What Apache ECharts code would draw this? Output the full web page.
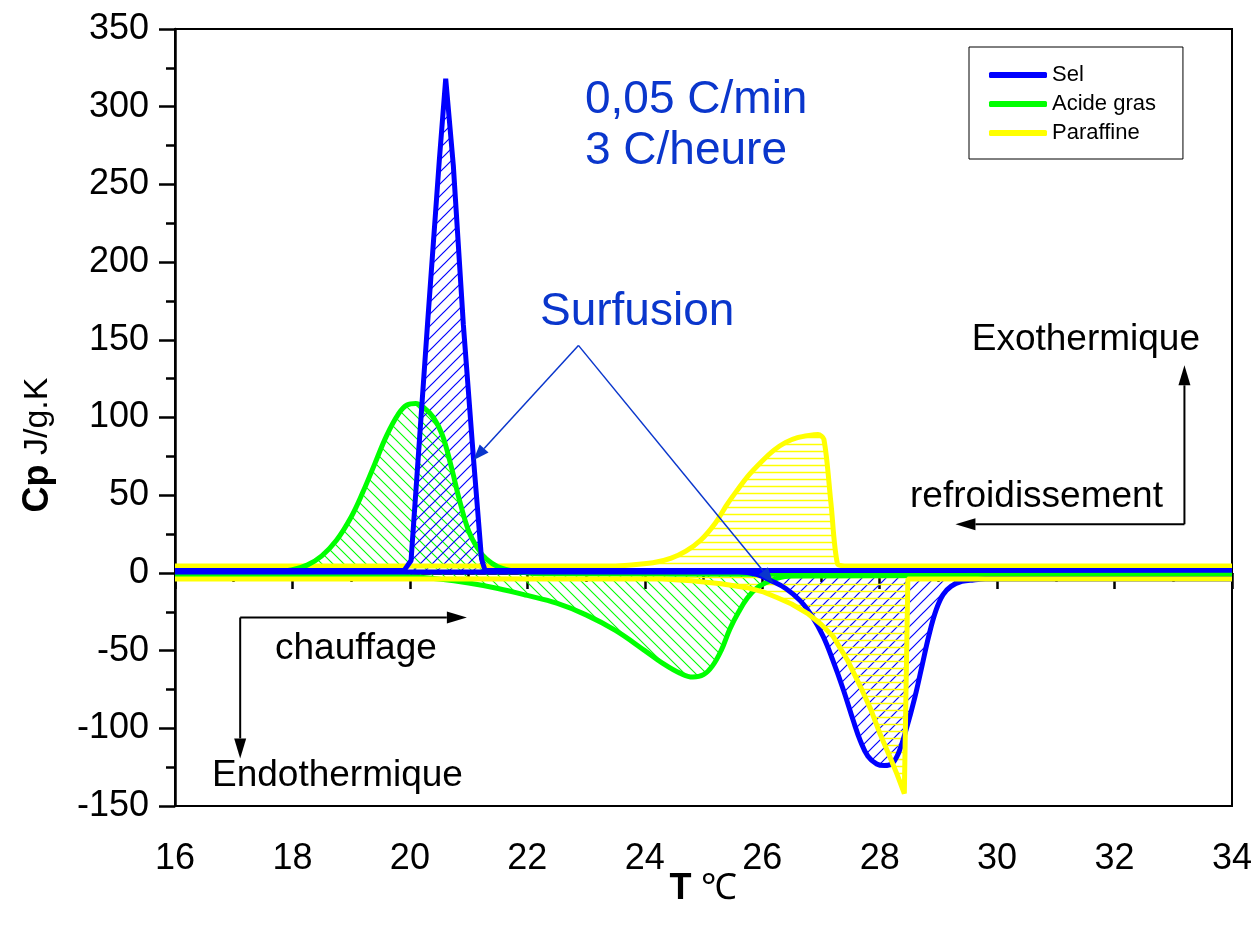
<!DOCTYPE html>
<html>
<head>
  <meta charset="utf-8">
  <script src="https://cdn.jsdelivr.net/npm/echarts@6.0.0/dist/echarts.min.js"></script>
  <style>
    body {
      margin: 0;
      padding: 0;
      background-color: white;
    }
    #main {
      width: 1257px;
      height: 931px;
    }
  </style>
  <title>Cp - Sel / Acide gras / Paraffine</title>
</head>
<body>
<div id="main"></div>
<script>
  // Sel (blue) - refroidissement (exothermic peak) and chauffage (endothermic)
  var selRefT  = [16, 19.9, 20.02, 20.3, 20.5, 20.61, 20.74, 20.91, 21.08, 21.22, 21.28, 34];
  var selRefCp = [1.5, 1.5, 8, 160, 265, 318, 262, 160, 75, 9, 1.5, 1.5];
  var selChT  = [16, 25.6, 25.9, 26.15, 26.4, 26.65, 26.85, 27.04, 27.2, 27.38, 27.55, 27.67, 27.8, 27.95, 28.08, 28.2, 28.32, 28.45, 28.6, 28.72, 28.84, 28.96, 29.08, 29.22, 29.4, 29.6, 29.8, 34];
  var selChCp = [0.5, 0.5, -1, -5, -10, -18, -28, -41, -56, -75, -95, -108, -118, -123, -124, -123, -116, -101, -80, -60, -40, -24, -14, -8.5, -5.5, -4.5, -4, -4];

  // Acide gras (green)
  var grasRefT  = [16, 17.0, 17.6, 18.0, 18.25, 18.5, 18.75, 19.0, 19.2, 19.4, 19.6, 19.8, 19.95, 20.1, 20.25, 20.4, 20.55, 20.7, 20.85, 21.0, 21.15, 21.3, 21.5, 21.8, 22.2, 34];
  var grasRefCp = [-1, -0.5, 0, 2, 5, 11, 21, 36, 52, 70, 88, 102, 108, 109, 106, 100, 89, 69, 46, 27, 16, 9, 4, 1, -0.5, -1];
  var grasChT  = [16, 19, 20, 20.5, 21, 21.5, 22, 22.5, 23.0, 23.5, 24.0, 24.3, 24.6, 24.82, 25.0, 25.15, 25.3, 25.45, 25.6, 25.75, 25.9, 26.05, 26.25, 26.5, 34];
  var grasChCp = [-1.5, -1.5, -2.5, -4, -6.5, -10, -14.5, -19.5, -27, -37, -50, -58, -64.5, -67, -65.5, -60, -50, -36, -25, -16, -10, -6.5, -3.5, -2, -1.5];

  // Paraffine (yellow)
  var parRefT  = [16, 23.5, 23.9, 24.2, 24.45, 24.7, 24.95, 25.2, 25.4, 25.57, 25.75, 26.0, 26.2, 26.4, 26.6, 26.8, 26.95, 27.05, 27.17, 27.28, 27.4, 34];
  var parRefCp = [4.5, 4.5, 5.5, 7, 9.5, 14, 21, 32, 44, 53, 62, 72, 79, 84, 87, 88.5, 89, 86, 45, 6, 4.5, 4.5];
  var parChT  = [16, 24.3, 24.8, 25.3, 25.74, 26.0, 26.26, 26.5, 26.77, 27.0, 27.21, 27.45, 27.67, 27.85, 28.0, 28.18, 28.3, 28.42, 28.48, 34];
  var parChCp = [-4, -4, -5, -7, -9.5, -12, -16, -20, -26, -33, -41, -56, -73, -88, -103, -119, -130, -142, -4, -4];

  var xTicks = [16, 34, 2];
  var yTicks = [-150, 350, 50];

  var FONT = 'Liberation Sans, Arial, sans-serif';
  var BLUE = '#0000ff', GREEN = '#00ff00', YELLOW = '#ffff00', TXTBLUE = '#0a36cc';

  function zip(a, b) {
    return a.map(function (v, i) { return [v, b[i]]; });
  }

  // hatch pattern canvas
  function hatch(color, dir, size, w) {
    var c = document.createElement('canvas');
    c.width = size;
    c.height = size;
    var ctx = c.getContext('2d');
    ctx.strokeStyle = color;
    ctx.lineWidth = w;
    ctx.beginPath();
    if (dir === 'h') {
      ctx.moveTo(0, size / 2);
      ctx.lineTo(size, size / 2);
    } else if (dir === '/') {
      ctx.moveTo(-1, 1); ctx.lineTo(1, -1);
      ctx.moveTo(0, size); ctx.lineTo(size, 0);
      ctx.moveTo(size - 1, size + 1); ctx.lineTo(size + 1, size - 1);
    } else {
      ctx.moveTo(-1, size - 1); ctx.lineTo(1, size + 1);
      ctx.moveTo(0, 0); ctx.lineTo(size, size);
      ctx.moveTo(size - 1, -1); ctx.lineTo(size + 1, 1);
    }
    ctx.stroke();
    return { image: c, repeat: 'repeat' };
  }

  function serie(name, color, data, pattern, smooth) {
    return {
      name: name,
      type: 'line',
      data: data,
      color: color,
      showSymbol: false,
      smooth: smooth,
      lineStyle: { color: color, width: 5 },
      itemStyle: { color: color },
      areaStyle: { color: pattern, opacity: 1 },
      emphasis: { disabled: true }
    };
  }

  var chart = echarts.init(document.getElementById('main'));

  chart.setOption({
    animation: false,
    backgroundColor: '#fff',
    textStyle: { fontFamily: FONT },
    grid: {
      left: 175, right: 25, top: 29, bottom: 125,
      show: true, borderColor: '#000', borderWidth: 2, backgroundColor: 'transparent'
    },
    legend: {
      orient: 'vertical',
      left: 969,
      top: 47,
      padding: [17, 27, 15, 20],
      borderColor: '#000',
      borderWidth: 1,
      itemWidth: 58,
      itemHeight: 6,
      itemGap: 7,
      icon: 'roundRect',
      data: ['Sel', 'Acide gras', 'Paraffine'],
      textStyle: { fontSize: 22, color: '#000', fontFamily: FONT }
    },
    xAxis: {
      type: 'value',
      min: xTicks[0], max: xTicks[1], interval: xTicks[2],
      name: '{b|T}{n| ℃}',
      nameLocation: 'middle',
      nameGap: 65,
      nameMoveOverlap: false,
      nameTextStyle: {
        rich: {
          b: { fontSize: 36, fontWeight: 'bold', color: '#000', fontFamily: FONT },
          n: { fontSize: 36, color: '#000', fontFamily: FONT }
        }
      },
      axisLine: { lineStyle: { color: '#000', width: 2.5 } },
      axisTick: { length: 16, lineStyle: { color: '#000', width: 2.5 } },
      minorTick: { show: true, splitNumber: 2, length: 9, lineStyle: { color: '#000', width: 2.5 } },
      splitLine: { show: false },
      axisLabel: { fontSize: 36, color: '#000', margin: 35, fontFamily: FONT }
    },
    yAxis: {
      type: 'value',
      min: yTicks[0], max: yTicks[1], interval: yTicks[2],
      axisLine: { lineStyle: { color: '#000', width: 2.5 } },
      axisTick: { length: 16, lineStyle: { color: '#000', width: 2.5 } },
      minorTick: { show: true, splitNumber: 2, length: 9, lineStyle: { color: '#000', width: 2.5 } },
      splitLine: { show: false },
      axisLabel: { fontSize: 36, color: '#000', margin: 26, fontFamily: FONT }
    },
    series: [
      serie('Paraffine', YELLOW, zip(parRefT, parRefCp), hatch(YELLOW, 'h', 7, 1.5), 0.3),
      serie('Acide gras', GREEN, zip(grasRefT, grasRefCp), hatch(GREEN, '\\', 11, 1.1), 0.4),
      serie('Sel', BLUE, zip(selRefT, selRefCp), hatch(BLUE, '/', 12, 1.2), false),
      serie('Acide gras', GREEN, zip(grasChT, grasChCp), hatch(GREEN, '\\', 11, 1.1), 0.4),
      serie('Sel', BLUE, zip(selChT, selChCp), hatch(BLUE, '/', 12, 1.2), 0.4),
      serie('Paraffine', YELLOW, zip(parChT, parChCp), hatch(YELLOW, 'h', 7, 1.5), false)
    ]
  });

  // annotations, anchored in data coordinates
  function P(t, cp) {
    return chart.convertToPixel({ gridIndex: 0 }, [t, cp]);
  }

  function arrow(a, b, color, width, headLen, headW) {
    var p1 = P(a[0], a[1]), p2 = P(b[0], b[1]);
    var dx = p2[0] - p1[0], dy = p2[1] - p1[1];
    var len = Math.sqrt(dx * dx + dy * dy);
    var ux = dx / len, uy = dy / len;
    var bx = p2[0] - ux * headLen, by = p2[1] - uy * headLen;
    return [
      { type: 'line', z: 100, shape: { x1: p1[0], y1: p1[1], x2: bx, y2: by },
        style: { stroke: color, lineWidth: width } },
      { type: 'polygon', z: 100,
        shape: { points: [[p2[0], p2[1]], [bx - uy * headW, by + ux * headW], [bx + uy * headW, by - ux * headW]] },
        style: { fill: color } }
    ];
  }

  function label(text, x, y, size, color, align) {
    return {
      type: 'text', z: 100, x: x, y: y,
      style: { text: text, fontSize: size, fill: color, fontFamily: FONT, align: align || 'left', verticalAlign: 'middle' }
    };
  }

  var g = [];
  g = g.concat(arrow([33.19, 31.3], [33.19, 133.6], '#000', 2, 20, 6));
  g = g.concat(arrow([33.19, 31.3], [29.29, 31.3], '#000', 2, 20, 6));
  g = g.concat(arrow([17.11, -28.7], [20.97, -28.7], '#000', 2, 20, 6));
  g = g.concat(arrow([17.11, -28.7], [17.11, -119.4], '#000', 2, 20, 6));
  g = g.concat(arrow([22.87, 146.4], [21.08, 72.5], TXTBLUE, 1.5, 16, 6));
  g = g.concat(arrow([22.87, 146.4], [26.19, -6.8], TXTBLUE, 1.5, 16, 6));

  g.push(label('0,05 C/min', 585, 100, 46, TXTBLUE));
  g.push(label('3 C/heure', 585, 151, 46, TXTBLUE));
  g.push(label('Surfusion', 540, 312, 46, TXTBLUE));
  g.push(label('Exothermique', 1200, 340, 37, '#000', 'right'));
  g.push(label('refroidissement', 910, 497, 37, '#000'));
  g.push(label('chauffage', 275, 649, 37, '#000'));
  g.push(label('Endothermique', 212, 776, 37, '#000'));
  g.push({
    type: 'text', z: 100, x: 38, y: 445, rotation: Math.PI / 2,
    style: {
      text: '{b|Cp}{n| J/g.K}', align: 'center', verticalAlign: 'middle',
      rich: {
        b: { fontSize: 36, fontWeight: 'bold', fill: '#000', fontFamily: FONT },
        n: { fontSize: 34, fill: '#000', fontFamily: FONT }
      }
    }
  });

  chart.setOption({ graphic: { elements: g } });
</script>
</body>
</html>
